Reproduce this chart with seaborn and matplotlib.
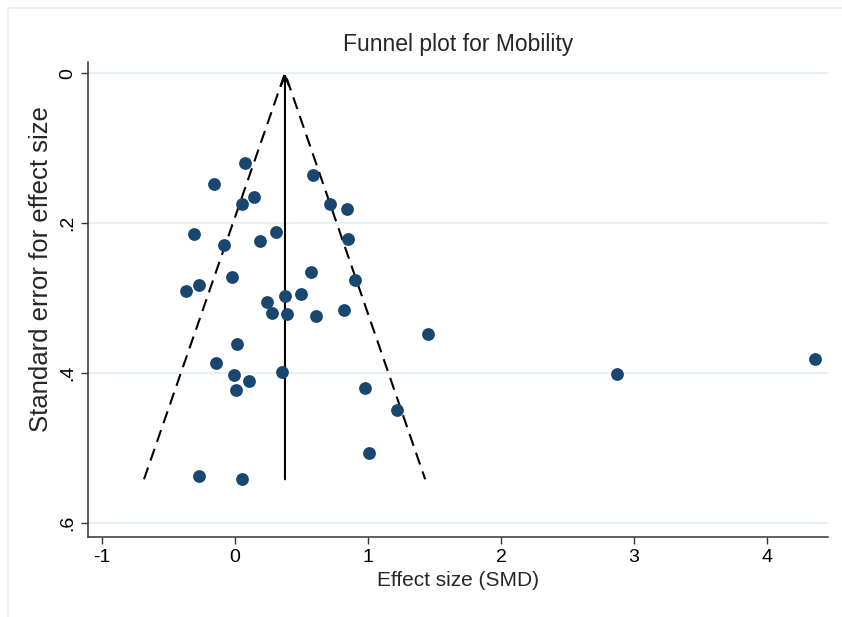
import pandas as pd
import matplotlib.pyplot as plt
import matplotlib.lines as mlines
import seaborn as sns

# effect sizes (SMD) and their standard errors
smd = [0.075, -0.158, 0.586, 0.143, 0.053, 0.714, 0.842, -0.308, 0.308, -0.083,
       0.188, 0.850, 0.571, -0.023, 0.902, -0.271, -0.368, 0.376, 0.496, 0.241,
       0.278, 0.391, 0.609, 0.820, 1.451, 0.015, -0.143, 0.353, -0.008, 0.105,
       0.977, 0.008, 1.218, 1.008, -0.271, 0.053, 2.872, 4.363]
se = [0.120, 0.148, 0.136, 0.165, 0.175, 0.175, 0.181, 0.215, 0.212, 0.229,
      0.224, 0.221, 0.265, 0.272, 0.276, 0.283, 0.291, 0.297, 0.295, 0.305,
      0.320, 0.321, 0.324, 0.316, 0.348, 0.361, 0.387, 0.399, 0.403, 0.411,
      0.420, 0.423, 0.449, 0.507, 0.537, 0.541, 0.402, 0.381]

# pooled estimate and pseudo 95% limits
pooled = 0.376
se_max = 0.542
limit_x = [-0.684, 0.376, 1.430]
limit_se = [0.542, 0.0, 0.542]

x_ticks = [-1, 0, 1, 2, 3, 4]
y_ticks = [0, 0.2, 0.4, 0.6]
y_labels = ["0", ".2", ".4", ".6"]

navy = "#1a476f"
grid = "#e6eef0"


def make_plot():
    sns.set_theme(style="ticks")
    plt.rcParams["font.family"] = ["Liberation Sans", "DejaVu Sans"]

    df = pd.DataFrame({"smd": smd, "se": se})

    fig = plt.figure(figsize=(8.42, 6.17), dpi=100)
    ax = fig.add_axes([0.1045, 0.1297, 0.9834 - 0.1045, 0.8995 - 0.1297])

    # graph region border (faint)
    fig.add_artist(mlines.Line2D([8 / 842, 8 / 842], [0, 1 - 8 / 617],
                                 color="#e8eeee", lw=1.2, transform=fig.transFigure))
    fig.add_artist(mlines.Line2D([8 / 842, 1], [1 - 8 / 617, 1 - 8 / 617],
                                 color="#e8eeee", lw=1.2, transform=fig.transFigure))

    for t in y_ticks:
        ax.axhline(t, color=grid, lw=1.3, zorder=0)

    ax.plot(limit_x, limit_se, color="black", lw=1.5, ls=(0, (6, 3.5)), zorder=2)
    ax.annotate("", xy=(pooled, 0), xytext=(pooled, se_max),
                arrowprops=dict(arrowstyle="->,head_length=0.6,head_width=0.25",
                                color="black", lw=1.5, shrinkA=0, shrinkB=0),
                zorder=2)

    sns.scatterplot(data=df, x="smd", y="se", ax=ax, color=navy, s=85,
                    linewidth=0, zorder=3, legend=False)

    ax.set_xlim(-1.105, 4.459)
    ax.set_ylim(0.619, -0.015)
    ax.set_xticks(x_ticks)
    ax.set_xticklabels([str(v) for v in x_ticks])
    ax.set_yticks(y_ticks)
    ax.set_yticklabels(y_labels, rotation=90, va="center")

    ax.tick_params(axis="both", direction="out", length=5, width=1,
                   color="#333333", labelsize=14, labelcolor="black")
    for side in ["top", "right"]:
        ax.spines[side].set_visible(False)
    for side in ["left", "bottom"]:
        ax.spines[side].set_color("#333333")
        ax.spines[side].set_linewidth(1.1)

    ax.set_xlabel("Effect size (SMD)", fontsize=15, labelpad=4)
    ax.set_ylabel("Standard error for effect size", fontsize=18.5)
    ax.yaxis.set_label_coords(-0.047, 0.564)
    ax.set_title("Funnel plot for Mobility", fontsize=16.5, pad=8)

    fig.savefig("out.png", dpi=100, facecolor="white")


if __name__ == "__main__":
    make_plot()
